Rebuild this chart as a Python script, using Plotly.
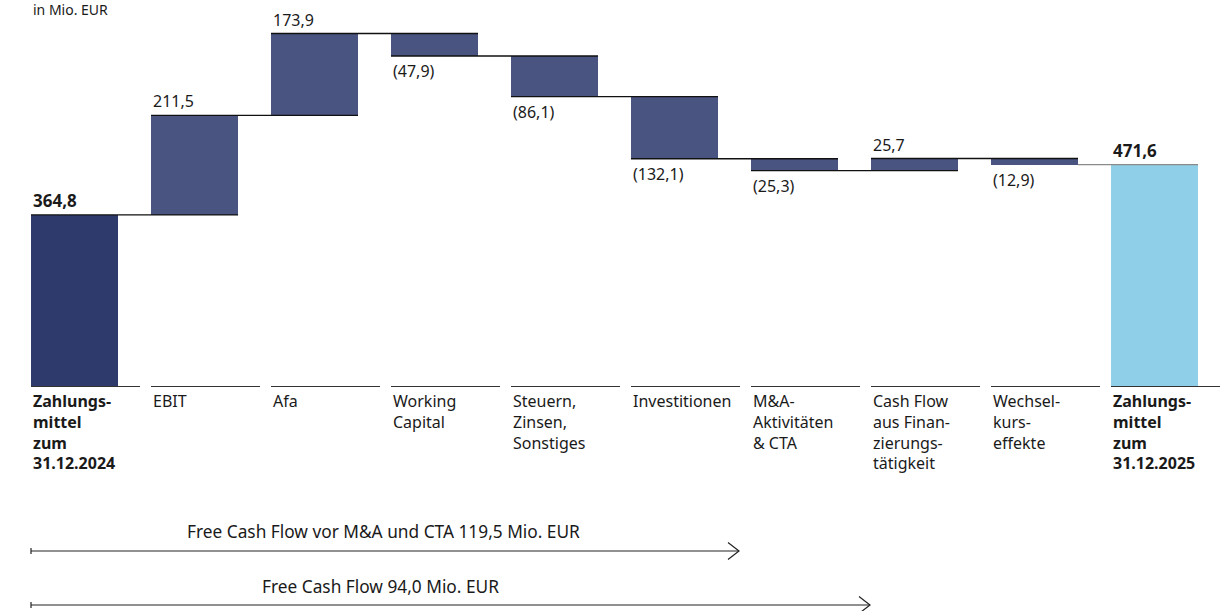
import plotly.graph_objects as go

# ---------------- data ----------------
categories = [
    "<b>Zahlungs-<br>mittel<br>zum<br>31.12.2024</b>",
    "EBIT",
    "Afa",
    "Working<br>Capital",
    "Steuern,<br>Zinsen,<br>Sonstiges",
    "Investitionen",
    "M&A-<br>Aktivitäten<br>& CTA",
    "Cash Flow<br>aus Finan-<br>zierungs-<br>tätigkeit",
    "Wechsel-<br>kurs-<br>effekte",
    "<b>Zahlungs-<br>mittel<br>zum<br>31.12.2025</b>",
]
values = [364.8, 211.5, 173.9, -47.9, -86.1, -132.1, -25.3, 25.7, -12.9, 471.6]
kinds = ["total", "delta", "delta", "delta", "delta", "delta", "delta", "delta", "delta", "total"]
unit_label = "in Mio. EUR"
fcf_labels = ["Free Cash Flow vor M&A und CTA 119,5 Mio. EUR", "Free Cash Flow 94,0 Mio. EUR"]

# ---------------- styling / geometry ----------------
W, H = 1224, 611
PITCH = 120.0
BAR_PX = 87.0
FIRST_LEFT = 31.0
BASE_PX = 386.5
SCALE = 0.4705  # px per unit

C_START = "#2d3a6b"
C_DELTA = "#4a5480"
C_END = "#8fcfe8"
TXT = "#1a1a1a"
FONT = "Noto Sans"
FS = 16

bw = BAR_PX / PITCH
x0c = FIRST_LEFT + BAR_PX / 2
xr = [(0 - x0c) / PITCH, (W - x0c) / PITCH]
yr = [(BASE_PX - H) / SCALE, BASE_PX / SCALE]


def fmt(v):
    s = f"{abs(v):.1f}".replace(".", ",")
    return f"({s})" if v < 0 else s


# compute bases/heights and running totals
bases, heights, ends, colors = [], [], [], []
run = 0.0
for i, (v, k) in enumerate(zip(values, kinds)):
    if k == "total":
        bases.append(0)
        heights.append(v)
        run = v
    else:
        if v >= 0:
            bases.append(run)
            heights.append(v)
        else:
            bases.append(run + v)
            heights.append(-v)
        run = run + v
    ends.append(run)
    colors.append(C_START if i == 0 else (C_END if i == len(values) - 1 else C_DELTA))

xs = list(range(len(values)))

fig = go.Figure()
fig.add_trace(go.Bar(
    x=xs, y=heights, base=bases, width=bw,
    marker=dict(color=colors, line=dict(width=0)),
    hoverinfo="skip", showlegend=False,
))

shapes = []
annotations = []
n = len(values)
for i in range(n):
    left = i - bw / 2
    # category baseline segment
    shapes.append(dict(type="line", xref="x", yref="y", x0=left, x1=left + 109 / PITCH,
                       y0=0, y1=0, line=dict(color="#333333", width=1.2), layer="above"))
    # connector at running total
    if i < n - 1:
        last = (i == n - 2)
        shapes.append(dict(type="line", xref="x", yref="y",
                           x0=(i + bw / 2) if last else left, x1=i + 1 + bw / 2,
                           y0=ends[i], y1=ends[i],
                           line=dict(color="#8a8a8a" if last else "#111111", width=1.4),
                           layer="above"))
    # category label
    annotations.append(dict(x=left, y=0, xref="x", yref="y", xanchor="left", yanchor="top",
                            yshift=-1, text=categories[i], showarrow=False, align="left",
                            font=dict(family=FONT, size=FS, color=TXT)))
    # value label
    v = values[i]
    if kinds[i] == "total":
        annotations.append(dict(x=left, y=ends[i], xref="x", yref="y", xanchor="left",
                                yanchor="bottom", yshift=1, text=f"<b>{fmt(v)}</b>",
                                showarrow=False, font=dict(family=FONT, size=FS + 1, color=TXT)))
    elif v >= 0:
        annotations.append(dict(x=left, y=ends[i], xref="x", yref="y", xanchor="left",
                                yanchor="bottom", yshift=1, text=fmt(v),
                                showarrow=False, font=dict(family=FONT, size=FS, color=TXT)))
    else:
        annotations.append(dict(x=left, y=ends[i], xref="x", yref="y", xanchor="left",
                                yanchor="top", yshift=-2, text=fmt(v),
                                showarrow=False, font=dict(family=FONT, size=FS, color=TXT)))

# unit label at the top edge
annotations.append(dict(x=FIRST_LEFT / W, y=1, xref="paper", yref="paper", xanchor="left",
                        yanchor="top", yshift=2, text=unit_label, showarrow=False,
                        font=dict(family=FONT, size=14, color=TXT)))


# free cash flow arrows (pixel geometry -> paper coords)
def px(p):
    return p / W


def py(p):
    return 1 - p / H


arrows = [(31, 739, 551, 383, 531), (31, 870, 605, 380, 586)]
for (xa, xb, yy, xt, yt), lab in zip(arrows, fcf_labels):
    shapes.append(dict(type="line", xref="paper", yref="paper", x0=px(xa), x1=px(xb),
                       y0=py(yy), y1=py(yy), line=dict(color="#222222", width=1.2)))
    shapes.append(dict(type="line", xref="paper", yref="paper", x0=px(xa), x1=px(xa),
                       y0=py(yy - 3), y1=py(yy + 3), line=dict(color="#222222", width=1.2)))
    shapes.append(dict(type="path", xref="paper", yref="paper",
                       path=f"M {px(xb - 11)},{py(yy - 8.5)} L {px(xb)},{py(yy)} L {px(xb - 11)},{py(yy + 8.5)}",
                       line=dict(color="#222222", width=1.2)))
    annotations.append(dict(x=px(xt), y=py(yt), xref="paper", yref="paper", xanchor="center",
                            yanchor="middle", text=lab, showarrow=False,
                            font=dict(family=FONT, size=17.3, color=TXT)))

fig.update_layout(
    width=W, height=H,
    margin=dict(l=0, r=0, t=0, b=0),
    plot_bgcolor="white", paper_bgcolor="white",
    xaxis=dict(range=xr, visible=False, fixedrange=True),
    yaxis=dict(range=yr, visible=False, fixedrange=True),
    shapes=shapes, annotations=annotations,
    bargap=0, showlegend=False,
)

fig.write_html("out.html", config={"displayModeBar": False, "staticPlot": True},
               post_script="document.body.style.margin='0';document.body.style.overflow='hidden';")
